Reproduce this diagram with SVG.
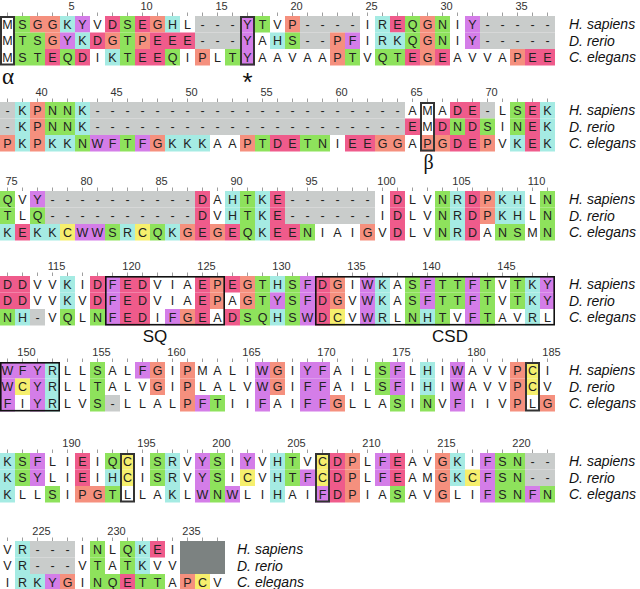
<svg xmlns="http://www.w3.org/2000/svg" width="640" height="589" viewBox="0 0 640 589">
<style>
.g{fill:#8ee25c}.s{fill:#f5907e}.p{fill:#ef5b8b}.c{fill:#a5ebe3}.v{fill:#d47de8}.y{fill:#f6ef6d}.x{fill:#c9cccb}.dk{fill:#7c8281}
.aa{font-family:"Liberation Sans",Arial,sans-serif;font-size:12.5px;fill:#222;text-anchor:middle}
.num{font-family:"Liberation Sans",Arial,sans-serif;font-size:11px;fill:#333;text-anchor:middle}
.sp{font-family:"Liberation Sans",Arial,sans-serif;font-size:14px;font-style:italic;fill:#111}
.ann{font-family:"Liberation Sans",Arial,sans-serif;font-size:17px;fill:#111;text-anchor:middle}
.star{font-family:"Liberation Sans",Arial,sans-serif;font-size:26px;fill:#111;text-anchor:middle}
.gr{font-family:"Liberation Serif","Times New Roman",serif;fill:#111;text-anchor:middle}
.box{fill:none;stroke:#333;stroke-width:2}
.bx2{fill:none;stroke:#111;stroke-width:1.6}
.tk{stroke:#888;stroke-width:3.5;stroke-dasharray:0.8 14.2}
</style>

<!-- Block 1 : 1-37 -->
<g id="block1">
<line class="tk" x1="7.1" y1="14.2" x2="555" y2="14.2"/>
<text class="num" y="9.5"><tspan x="71.5">5</tspan><tspan x="146.5">10</tspan><tspan x="221.5">15</tspan><tspan x="296.5">20</tspan><tspan x="371.5">25</tspan><tspan x="446.5">30</tspan><tspan x="521.5">35</tspan></text>
<g transform="translate(0,16)">
<rect class="g" x="15" width="15" height="16.5"/><rect class="s" x="30" width="30" height="16.5"/><rect class="c" x="60" width="15" height="16.5"/><rect class="v" x="75" width="15" height="16.5"/><rect class="p" x="105" width="15" height="16.5"/><rect class="g" x="120" width="15" height="16.5"/><rect class="p" x="135" width="15" height="16.5"/><rect class="s" x="150" width="15" height="16.5"/><rect class="c" x="165" width="15" height="16.5"/><rect class="x" x="195" width="45" height="16.5"/><rect class="v" x="240" width="15" height="16.5"/><rect class="g" x="255" width="15" height="16.5"/><rect class="s" x="285" width="15" height="16.5"/><rect class="x" x="300" width="60" height="16.5"/><rect class="c" x="375" width="15" height="16.5"/><rect class="p" x="390" width="15" height="16.5"/><rect class="g" x="405" width="15" height="16.5"/><rect class="s" x="420" width="15" height="16.5"/><rect class="g" x="435" width="15" height="16.5"/><rect class="v" x="465" width="15" height="16.5"/><rect class="x" x="480" width="75" height="16.5"/>
</g>
<g transform="translate(0,32.5)">
<rect class="g" x="15" width="30" height="16.5"/><rect class="s" x="45" width="15" height="16.5"/><rect class="v" x="60" width="15" height="16.5"/><rect class="c" x="75" width="15" height="16.5"/><rect class="p" x="90" width="15" height="16.5"/><rect class="s" x="105" width="15" height="16.5"/><rect class="g" x="120" width="15" height="16.5"/><rect class="s" x="135" width="15" height="16.5"/><rect class="p" x="150" width="45" height="16.5"/><rect class="x" x="195" width="45" height="16.5"/><rect class="v" x="240" width="15" height="16.5"/><rect class="c" x="270" width="15" height="16.5"/><rect class="g" x="285" width="15" height="16.5"/><rect class="x" x="300" width="30" height="16.5"/><rect class="s" x="330" width="15" height="16.5"/><rect class="v" x="345" width="15" height="16.5"/><rect class="c" x="375" width="30" height="16.5"/><rect class="g" x="405" width="15" height="16.5"/><rect class="s" x="420" width="15" height="16.5"/><rect class="g" x="435" width="15" height="16.5"/><rect class="v" x="465" width="15" height="16.5"/><rect class="x" x="480" width="75" height="16.5"/>
</g>
<g transform="translate(0,49)">
<rect class="g" x="15" width="30" height="16.5"/><rect class="p" x="45" width="15" height="16.5"/><rect class="g" x="60" width="15" height="16.5"/><rect class="p" x="75" width="15" height="16.5"/><rect class="c" x="105" width="15" height="16.5"/><rect class="g" x="120" width="15" height="16.5"/><rect class="p" x="135" width="30" height="16.5"/><rect class="g" x="165" width="15" height="16.5"/><rect class="s" x="195" width="15" height="16.5"/><rect class="g" x="225" width="15" height="16.5"/><rect class="v" x="240" width="15" height="16.5"/><rect class="s" x="330" width="15" height="16.5"/><rect class="g" x="345" width="15" height="16.5"/><rect class="g" x="375" width="30" height="16.5"/><rect class="p" x="405" width="15" height="16.5"/><rect class="s" x="420" width="15" height="16.5"/><rect class="p" x="435" width="15" height="16.5"/><rect class="s" x="510" width="15" height="16.5"/><rect class="p" x="525" width="30" height="16.5"/>
</g>
<text class="aa" y="28.6" x="7.5 22.5 37.5 52.5 67.5 82.5 97.5 112.5 127.5 142.5 157.5 172.5 187.5 202.5 217.5 232.5 247.5 262.5 277.5 292.5 307.5 322.5 337.5 352.5 367.5 382.5 397.5 412.5 427.5 442.5 457.5 472.5 487.5 502.5 517.5 532.5 547.5">MSGGKYVDSEGHL---YTVP----IREQGNIY-----</text>
<text class="aa" y="45.1" x="7.5 22.5 37.5 52.5 67.5 82.5 97.5 112.5 127.5 142.5 157.5 172.5 187.5 202.5 217.5 232.5 247.5 262.5 277.5 292.5 307.5 322.5 337.5 352.5 367.5 382.5 397.5 412.5 427.5 442.5 457.5 472.5 487.5 502.5 517.5 532.5 547.5">MTSGYKDGTPEEE---YAHS--PFIRKQGNIY-----</text>
<text class="aa" y="61.6" x="7.5 22.5 37.5 52.5 67.5 82.5 97.5 112.5 127.5 142.5 157.5 172.5 187.5 202.5 217.5 232.5 247.5 262.5 277.5 292.5 307.5 322.5 337.5 352.5 367.5 382.5 397.5 412.5 427.5 442.5 457.5 472.5 487.5 502.5 517.5 532.5 547.5">MSTEQDIKTEEQIPLTYAAVAAPTVQTEGEAVVAPEE</text>
<rect class="box" x="1" y="17" width="13" height="47.5"/>
<rect class="box" x="241" y="17" width="13" height="47.5"/>
<text class="sp" x="569" y="29.25">H. sapiens</text>
<text class="sp" x="569" y="45.75">D. rerio</text>
<text class="sp" x="569" y="62.25">C. elegans</text>
<text class="gr" x="8" y="84" font-size="23">α</text>
<text class="star" x="247.5" y="91">*</text>
</g>

<!-- Block 2 : 38-74 -->
<g id="block2">
<line class="tk" x1="7.1" y1="100.2" x2="555" y2="100.2"/>
<text class="num" y="95.5"><tspan x="41.5">40</tspan><tspan x="116.5">45</tspan><tspan x="191.5">50</tspan><tspan x="266.5">55</tspan><tspan x="341.5">60</tspan><tspan x="416.5">65</tspan><tspan x="491.5">70</tspan></text>
<g transform="translate(0,102)">
<rect class="x" x="0" width="15" height="16.5"/><rect class="c" x="15" width="15" height="16.5"/><rect class="s" x="30" width="15" height="16.5"/><rect class="g" x="45" width="30" height="16.5"/><rect class="c" x="75" width="15" height="16.5"/><rect class="x" x="90" width="315" height="16.5"/><rect class="p" x="450" width="30" height="16.5"/><rect class="x" x="480" width="15" height="16.5"/><rect class="g" x="510" width="15" height="16.5"/><rect class="p" x="525" width="15" height="16.5"/><rect class="c" x="540" width="15" height="16.5"/>
</g>
<g transform="translate(0,118.5)">
<rect class="x" x="0" width="15" height="16.5"/><rect class="c" x="15" width="15" height="16.5"/><rect class="s" x="30" width="15" height="16.5"/><rect class="g" x="45" width="30" height="16.5"/><rect class="c" x="75" width="15" height="16.5"/><rect class="x" x="90" width="315" height="16.5"/><rect class="p" x="405" width="15" height="16.5"/><rect class="p" x="435" width="15" height="16.5"/><rect class="g" x="450" width="15" height="16.5"/><rect class="p" x="465" width="15" height="16.5"/><rect class="g" x="480" width="15" height="16.5"/><rect class="g" x="510" width="15" height="16.5"/><rect class="p" x="525" width="15" height="16.5"/><rect class="c" x="540" width="15" height="16.5"/>
</g>
<g transform="translate(0,135)">
<rect class="s" x="0" width="15" height="16.5"/><rect class="c" x="15" width="15" height="16.5"/><rect class="s" x="30" width="15" height="16.5"/><rect class="c" x="45" width="30" height="16.5"/><rect class="g" x="75" width="15" height="16.5"/><rect class="v" x="90" width="30" height="16.5"/><rect class="g" x="120" width="15" height="16.5"/><rect class="v" x="135" width="15" height="16.5"/><rect class="s" x="150" width="15" height="16.5"/><rect class="c" x="165" width="45" height="16.5"/><rect class="s" x="240" width="15" height="16.5"/><rect class="g" x="255" width="15" height="16.5"/><rect class="p" x="270" width="30" height="16.5"/><rect class="g" x="300" width="30" height="16.5"/><rect class="p" x="345" width="30" height="16.5"/><rect class="s" x="375" width="30" height="16.5"/><rect class="s" x="420" width="30" height="16.5"/><rect class="p" x="450" width="30" height="16.5"/><rect class="s" x="480" width="15" height="16.5"/><rect class="c" x="510" width="15" height="16.5"/><rect class="p" x="525" width="15" height="16.5"/><rect class="c" x="540" width="15" height="16.5"/>
</g>
<text class="aa" y="114.6" x="7.5 22.5 37.5 52.5 67.5 82.5 97.5 112.5 127.5 142.5 157.5 172.5 187.5 202.5 217.5 232.5 247.5 262.5 277.5 292.5 307.5 322.5 337.5 352.5 367.5 382.5 397.5 412.5 427.5 442.5 457.5 472.5 487.5 502.5 517.5 532.5 547.5">-KPNNK---------------------AMADE-LSEK</text>
<text class="aa" y="131.1" x="7.5 22.5 37.5 52.5 67.5 82.5 97.5 112.5 127.5 142.5 157.5 172.5 187.5 202.5 217.5 232.5 247.5 262.5 277.5 292.5 307.5 322.5 337.5 352.5 367.5 382.5 397.5 412.5 427.5 442.5 457.5 472.5 487.5 502.5 517.5 532.5 547.5">-KPNNK---------------------EMDNDSINEK</text>
<text class="aa" y="147.6" x="7.5 22.5 37.5 52.5 67.5 82.5 97.5 112.5 127.5 142.5 157.5 172.5 187.5 202.5 217.5 232.5 247.5 262.5 277.5 292.5 307.5 322.5 337.5 352.5 367.5 382.5 397.5 412.5 427.5 442.5 457.5 472.5 487.5 502.5 517.5 532.5 547.5">PKPKKNWFTFGKKKAAPTDETNIEEGGAPGDEPVKEK</text>
<rect class="box" x="421" y="103" width="13" height="47.5"/>
<text class="sp" x="569" y="115.25">H. sapiens</text>
<text class="sp" x="569" y="131.75">D. rerio</text>
<text class="sp" x="569" y="148.25">C. elegans</text>
<text class="gr" x="428.5" y="169" font-size="20">β</text>
</g>

<!-- Block 3 : 75-111 -->
<g id="block3">
<line class="tk" x1="7.1" y1="189.2" x2="555" y2="189.2"/>
<text class="num" y="184.5"><tspan x="11.5">75</tspan><tspan x="86.5">80</tspan><tspan x="161.5">85</tspan><tspan x="236.5">90</tspan><tspan x="311.5">95</tspan><tspan x="386.5">100</tspan><tspan x="461.5">105</tspan><tspan x="536.5">110</tspan></text>
<g transform="translate(0,191)">
<rect class="g" x="0" width="15" height="16.5"/><rect class="v" x="30" width="15" height="16.5"/><rect class="x" x="45" width="150" height="16.5"/><rect class="p" x="195" width="15" height="16.5"/><rect class="c" x="225" width="15" height="16.5"/><rect class="g" x="240" width="15" height="16.5"/><rect class="c" x="255" width="15" height="16.5"/><rect class="p" x="270" width="15" height="16.5"/><rect class="x" x="285" width="90" height="16.5"/><rect class="p" x="390" width="15" height="16.5"/><rect class="g" x="435" width="15" height="16.5"/><rect class="c" x="450" width="15" height="16.5"/><rect class="p" x="465" width="15" height="16.5"/><rect class="s" x="480" width="15" height="16.5"/><rect class="c" x="495" width="30" height="16.5"/><rect class="g" x="540" width="15" height="16.5"/>
</g>
<g transform="translate(0,207.5)">
<rect class="g" x="0" width="15" height="16.5"/><rect class="g" x="30" width="15" height="16.5"/><rect class="x" x="45" width="150" height="16.5"/><rect class="p" x="195" width="15" height="16.5"/><rect class="c" x="225" width="15" height="16.5"/><rect class="g" x="240" width="15" height="16.5"/><rect class="c" x="255" width="15" height="16.5"/><rect class="p" x="270" width="15" height="16.5"/><rect class="x" x="285" width="90" height="16.5"/><rect class="p" x="390" width="15" height="16.5"/><rect class="g" x="435" width="15" height="16.5"/><rect class="c" x="450" width="15" height="16.5"/><rect class="p" x="465" width="15" height="16.5"/><rect class="s" x="480" width="15" height="16.5"/><rect class="c" x="495" width="30" height="16.5"/><rect class="g" x="540" width="15" height="16.5"/>
</g>
<g transform="translate(0,224)">
<rect class="c" x="0" width="15" height="16.5"/><rect class="p" x="15" width="15" height="16.5"/><rect class="c" x="30" width="30" height="16.5"/><rect class="y" x="60" width="15" height="16.5"/><rect class="v" x="75" width="30" height="16.5"/><rect class="g" x="105" width="15" height="16.5"/><rect class="c" x="120" width="15" height="16.5"/><rect class="y" x="135" width="15" height="16.5"/><rect class="g" x="150" width="15" height="16.5"/><rect class="c" x="165" width="15" height="16.5"/><rect class="s" x="180" width="15" height="16.5"/><rect class="p" x="195" width="15" height="16.5"/><rect class="s" x="210" width="15" height="16.5"/><rect class="p" x="225" width="15" height="16.5"/><rect class="g" x="240" width="15" height="16.5"/><rect class="c" x="255" width="15" height="16.5"/><rect class="p" x="270" width="30" height="16.5"/><rect class="g" x="300" width="15" height="16.5"/><rect class="s" x="360" width="15" height="16.5"/><rect class="p" x="390" width="15" height="16.5"/><rect class="g" x="435" width="15" height="16.5"/><rect class="c" x="450" width="15" height="16.5"/><rect class="p" x="465" width="15" height="16.5"/><rect class="g" x="495" width="30" height="16.5"/><rect class="g" x="540" width="15" height="16.5"/>
</g>
<text class="aa" y="203.6" x="7.5 22.5 37.5 52.5 67.5 82.5 97.5 112.5 127.5 142.5 157.5 172.5 187.5 202.5 217.5 232.5 247.5 262.5 277.5 292.5 307.5 322.5 337.5 352.5 367.5 382.5 397.5 412.5 427.5 442.5 457.5 472.5 487.5 502.5 517.5 532.5 547.5">QVY----------DAHTKE------IDLVNRDPKHLN</text>
<text class="aa" y="220.1" x="7.5 22.5 37.5 52.5 67.5 82.5 97.5 112.5 127.5 142.5 157.5 172.5 187.5 202.5 217.5 232.5 247.5 262.5 277.5 292.5 307.5 322.5 337.5 352.5 367.5 382.5 397.5 412.5 427.5 442.5 457.5 472.5 487.5 502.5 517.5 532.5 547.5">TLQ----------DVHTKE------IDLVNRDPKHLN</text>
<text class="aa" y="236.6" x="7.5 22.5 37.5 52.5 67.5 82.5 97.5 112.5 127.5 142.5 157.5 172.5 187.5 202.5 217.5 232.5 247.5 262.5 277.5 292.5 307.5 322.5 337.5 352.5 367.5 382.5 397.5 412.5 427.5 442.5 457.5 472.5 487.5 502.5 517.5 532.5 547.5">KEKKCWWSRCQKGEGEQKEENIAIGVDLVNRDANSMN</text>
<text class="sp" x="569" y="204.25">H. sapiens</text>
<text class="sp" x="569" y="220.75">D. rerio</text>
<text class="sp" x="569" y="237.25">C. elegans</text>
</g>

<!-- Block 4 : 112-148 -->
<g id="block4">
<line class="tk" x1="7.1" y1="274.2" x2="555" y2="274.2"/>
<text class="num" y="269.5"><tspan x="56.5">115</tspan><tspan x="131.5">120</tspan><tspan x="206.5">125</tspan><tspan x="281.5">130</tspan><tspan x="356.5">135</tspan><tspan x="431.5">140</tspan><tspan x="506.5">145</tspan></text>
<g transform="translate(0,276)">
<rect class="p" x="0" width="30" height="16.5"/><rect class="c" x="60" width="15" height="16.5"/><rect class="p" x="90" width="15" height="16.5"/><rect class="v" x="105" width="15" height="16.5"/><rect class="p" x="120" width="30" height="16.5"/><rect class="p" x="195" width="15" height="16.5"/><rect class="s" x="210" width="15" height="16.5"/><rect class="p" x="225" width="15" height="16.5"/><rect class="s" x="240" width="15" height="16.5"/><rect class="g" x="255" width="15" height="16.5"/><rect class="c" x="270" width="15" height="16.5"/><rect class="g" x="285" width="15" height="16.5"/><rect class="v" x="300" width="15" height="16.5"/><rect class="p" x="315" width="15" height="16.5"/><rect class="s" x="330" width="15" height="16.5"/><rect class="v" x="360" width="15" height="16.5"/><rect class="c" x="375" width="15" height="16.5"/><rect class="g" x="405" width="15" height="16.5"/><rect class="v" x="420" width="15" height="16.5"/><rect class="g" x="435" width="30" height="16.5"/><rect class="v" x="465" width="15" height="16.5"/><rect class="g" x="480" width="15" height="16.5"/><rect class="g" x="510" width="15" height="16.5"/><rect class="c" x="525" width="15" height="16.5"/><rect class="v" x="540" width="15" height="16.5"/>
</g>
<g transform="translate(0,292.5)">
<rect class="p" x="0" width="30" height="16.5"/><rect class="c" x="60" width="15" height="16.5"/><rect class="p" x="90" width="15" height="16.5"/><rect class="v" x="105" width="15" height="16.5"/><rect class="p" x="120" width="30" height="16.5"/><rect class="p" x="195" width="15" height="16.5"/><rect class="s" x="210" width="15" height="16.5"/><rect class="s" x="240" width="15" height="16.5"/><rect class="g" x="255" width="15" height="16.5"/><rect class="v" x="270" width="15" height="16.5"/><rect class="g" x="285" width="15" height="16.5"/><rect class="v" x="300" width="15" height="16.5"/><rect class="p" x="315" width="15" height="16.5"/><rect class="s" x="330" width="15" height="16.5"/><rect class="v" x="360" width="15" height="16.5"/><rect class="c" x="375" width="15" height="16.5"/><rect class="g" x="405" width="15" height="16.5"/><rect class="v" x="420" width="15" height="16.5"/><rect class="g" x="435" width="30" height="16.5"/><rect class="v" x="465" width="15" height="16.5"/><rect class="g" x="480" width="15" height="16.5"/><rect class="g" x="510" width="15" height="16.5"/><rect class="c" x="525" width="15" height="16.5"/><rect class="v" x="540" width="15" height="16.5"/>
</g>
<g transform="translate(0,309)">
<rect class="g" x="0" width="15" height="16.5"/><rect class="c" x="15" width="15" height="16.5"/><rect class="x" x="30" width="15" height="16.5"/><rect class="g" x="60" width="15" height="16.5"/><rect class="g" x="90" width="15" height="16.5"/><rect class="v" x="105" width="15" height="16.5"/><rect class="p" x="120" width="30" height="16.5"/><rect class="v" x="165" width="15" height="16.5"/><rect class="s" x="180" width="15" height="16.5"/><rect class="p" x="195" width="15" height="16.5"/><rect class="p" x="225" width="15" height="16.5"/><rect class="g" x="240" width="30" height="16.5"/><rect class="c" x="270" width="15" height="16.5"/><rect class="g" x="285" width="15" height="16.5"/><rect class="v" x="300" width="15" height="16.5"/><rect class="p" x="315" width="15" height="16.5"/><rect class="y" x="330" width="15" height="16.5"/><rect class="v" x="360" width="15" height="16.5"/><rect class="c" x="375" width="15" height="16.5"/><rect class="g" x="405" width="15" height="16.5"/><rect class="c" x="420" width="15" height="16.5"/><rect class="g" x="435" width="15" height="16.5"/><rect class="v" x="465" width="15" height="16.5"/><rect class="g" x="480" width="15" height="16.5"/><rect class="c" x="525" width="15" height="16.5"/>
</g>
<text class="aa" y="288.6" x="7.5 22.5 37.5 52.5 67.5 82.5 97.5 112.5 127.5 142.5 157.5 172.5 187.5 202.5 217.5 232.5 247.5 262.5 277.5 292.5 307.5 322.5 337.5 352.5 367.5 382.5 397.5 412.5 427.5 442.5 457.5 472.5 487.5 502.5 517.5 532.5 547.5">DDVVKIDFEDVIAEPEGTHSFDGIWKASFTTFTVTKY</text>
<text class="aa" y="305.1" x="7.5 22.5 37.5 52.5 67.5 82.5 97.5 112.5 127.5 142.5 157.5 172.5 187.5 202.5 217.5 232.5 247.5 262.5 277.5 292.5 307.5 322.5 337.5 352.5 367.5 382.5 397.5 412.5 427.5 442.5 457.5 472.5 487.5 502.5 517.5 532.5 547.5">DDVVKVDFEDVIAEPAGTYSFDGVWKASFTTFTVTKY</text>
<text class="aa" y="321.6" x="7.5 22.5 37.5 52.5 67.5 82.5 97.5 112.5 127.5 142.5 157.5 172.5 187.5 202.5 217.5 232.5 247.5 262.5 277.5 292.5 307.5 322.5 337.5 352.5 367.5 382.5 397.5 412.5 427.5 442.5 457.5 472.5 487.5 502.5 517.5 532.5 547.5">NH-VQLNFEDIFGEADSQHSWDCVWRLNHTVFTAVRL</text>
<rect class="bx2" x="105.8" y="276.8" width="118.4" height="47.9"/>
<rect class="bx2" x="315.8" y="276.8" width="238.4" height="47.9"/>
<text class="sp" x="569" y="289.25">H. sapiens</text>
<text class="sp" x="569" y="305.75">D. rerio</text>
<text class="sp" x="569" y="322.25">C. elegans</text>
<text class="ann" x="155" y="342">SQ</text>
<text class="ann" x="450" y="342">CSD</text>
</g>

<!-- Block 5 : 149-185 -->
<g id="block5">
<line class="tk" x1="7.1" y1="360.2" x2="555" y2="360.2"/>
<text class="num" y="355.5"><tspan x="26.5">150</tspan><tspan x="101.5">155</tspan><tspan x="176.5">160</tspan><tspan x="251.5">165</tspan><tspan x="326.5">170</tspan><tspan x="401.5">175</tspan><tspan x="476.5">180</tspan><tspan x="551.5">185</tspan></text>
<g transform="translate(0,362)">
<rect class="v" x="0" width="45" height="16.5"/><rect class="c" x="45" width="15" height="16.5"/><rect class="g" x="90" width="15" height="16.5"/><rect class="v" x="135" width="15" height="16.5"/><rect class="s" x="150" width="15" height="16.5"/><rect class="s" x="180" width="15" height="16.5"/><rect class="v" x="255" width="15" height="16.5"/><rect class="s" x="270" width="15" height="16.5"/><rect class="v" x="300" width="30" height="16.5"/><rect class="g" x="375" width="15" height="16.5"/><rect class="v" x="390" width="15" height="16.5"/><rect class="c" x="420" width="15" height="16.5"/><rect class="v" x="450" width="15" height="16.5"/><rect class="s" x="510" width="15" height="16.5"/><rect class="y" x="525" width="15" height="16.5"/>
</g>
<g transform="translate(0,378.5)">
<rect class="v" x="0" width="15" height="16.5"/><rect class="y" x="15" width="15" height="16.5"/><rect class="v" x="30" width="15" height="16.5"/><rect class="c" x="45" width="15" height="16.5"/><rect class="g" x="90" width="15" height="16.5"/><rect class="s" x="150" width="15" height="16.5"/><rect class="s" x="180" width="15" height="16.5"/><rect class="v" x="255" width="15" height="16.5"/><rect class="s" x="270" width="15" height="16.5"/><rect class="v" x="300" width="30" height="16.5"/><rect class="g" x="375" width="15" height="16.5"/><rect class="v" x="390" width="15" height="16.5"/><rect class="c" x="420" width="15" height="16.5"/><rect class="v" x="450" width="15" height="16.5"/><rect class="s" x="510" width="15" height="16.5"/><rect class="y" x="525" width="15" height="16.5"/>
</g>
<g transform="translate(0,395)">
<rect class="v" x="0" width="15" height="16.5"/><rect class="v" x="30" width="15" height="16.5"/><rect class="c" x="45" width="15" height="16.5"/><rect class="g" x="90" width="15" height="16.5"/><rect class="x" x="105" width="15" height="16.5"/><rect class="s" x="180" width="15" height="16.5"/><rect class="v" x="195" width="15" height="16.5"/><rect class="g" x="210" width="15" height="16.5"/><rect class="v" x="255" width="15" height="16.5"/><rect class="v" x="300" width="30" height="16.5"/><rect class="s" x="330" width="15" height="16.5"/><rect class="g" x="390" width="15" height="16.5"/><rect class="g" x="420" width="15" height="16.5"/><rect class="v" x="450" width="15" height="16.5"/><rect class="s" x="510" width="15" height="16.5"/><rect class="s" x="540" width="15" height="16.5"/>
</g>
<text class="aa" y="374.6" x="7.5 22.5 37.5 52.5 67.5 82.5 97.5 112.5 127.5 142.5 157.5 172.5 187.5 202.5 217.5 232.5 247.5 262.5 277.5 292.5 307.5 322.5 337.5 352.5 367.5 382.5 397.5 412.5 427.5 442.5 457.5 472.5 487.5 502.5 517.5 532.5 547.5">WFYRLLSALFGIPMALIWGIYFAILSFLHIWAVVPCI</text>
<text class="aa" y="391.1" x="7.5 22.5 37.5 52.5 67.5 82.5 97.5 112.5 127.5 142.5 157.5 172.5 187.5 202.5 217.5 232.5 247.5 262.5 277.5 292.5 307.5 322.5 337.5 352.5 367.5 382.5 397.5 412.5 427.5 442.5 457.5 472.5 487.5 502.5 517.5 532.5 547.5">WCYRLLTALVGIPLALVWGIFFAILSFIHIWAVVPCV</text>
<text class="aa" y="407.6" x="7.5 22.5 37.5 52.5 67.5 82.5 97.5 112.5 127.5 142.5 157.5 172.5 187.5 202.5 217.5 232.5 247.5 262.5 277.5 292.5 307.5 322.5 337.5 352.5 367.5 382.5 397.5 412.5 427.5 442.5 457.5 472.5 487.5 502.5 517.5 532.5 547.5">FIYRLVS-LLALPFTIIFAIFFGLLASINVFIIVPLG</text>
<rect class="bx2" x="0.8" y="362.8" width="58.4" height="47.9"/>
<rect class="box" x="526" y="363" width="13" height="47.5"/>
<text class="sp" x="569" y="375.25">H. sapiens</text>
<text class="sp" x="569" y="391.75">D. rerio</text>
<text class="sp" x="569" y="408.25">C. elegans</text>
</g>

<!-- Block 6 : 186-222 -->
<g id="block6">
<line class="tk" x1="7.1" y1="451.2" x2="555" y2="451.2"/>
<text class="num" y="446.5"><tspan x="71.5">190</tspan><tspan x="146.5">195</tspan><tspan x="221.5">200</tspan><tspan x="296.5">205</tspan><tspan x="371.5">210</tspan><tspan x="446.5">215</tspan><tspan x="521.5">220</tspan></text>
<g transform="translate(0,453)">
<rect class="c" x="0" width="15" height="16.5"/><rect class="g" x="15" width="15" height="16.5"/><rect class="v" x="30" width="15" height="16.5"/><rect class="p" x="75" width="15" height="16.5"/><rect class="g" x="105" width="15" height="16.5"/><rect class="y" x="120" width="15" height="16.5"/><rect class="g" x="150" width="15" height="16.5"/><rect class="c" x="165" width="15" height="16.5"/><rect class="v" x="195" width="15" height="16.5"/><rect class="g" x="210" width="15" height="16.5"/><rect class="v" x="240" width="15" height="16.5"/><rect class="c" x="270" width="15" height="16.5"/><rect class="g" x="285" width="15" height="16.5"/><rect class="y" x="315" width="15" height="16.5"/><rect class="p" x="330" width="15" height="16.5"/><rect class="s" x="345" width="15" height="16.5"/><rect class="v" x="375" width="15" height="16.5"/><rect class="p" x="390" width="15" height="16.5"/><rect class="s" x="435" width="15" height="16.5"/><rect class="c" x="450" width="15" height="16.5"/><rect class="v" x="480" width="15" height="16.5"/><rect class="g" x="495" width="30" height="16.5"/><rect class="x" x="525" width="30" height="16.5"/>
</g>
<g transform="translate(0,469.5)">
<rect class="c" x="0" width="15" height="16.5"/><rect class="g" x="15" width="15" height="16.5"/><rect class="v" x="30" width="15" height="16.5"/><rect class="p" x="75" width="15" height="16.5"/><rect class="c" x="105" width="15" height="16.5"/><rect class="y" x="120" width="15" height="16.5"/><rect class="g" x="150" width="15" height="16.5"/><rect class="c" x="165" width="15" height="16.5"/><rect class="v" x="195" width="15" height="16.5"/><rect class="g" x="210" width="15" height="16.5"/><rect class="y" x="240" width="15" height="16.5"/><rect class="c" x="270" width="15" height="16.5"/><rect class="g" x="285" width="15" height="16.5"/><rect class="v" x="300" width="15" height="16.5"/><rect class="y" x="315" width="15" height="16.5"/><rect class="p" x="330" width="15" height="16.5"/><rect class="s" x="345" width="15" height="16.5"/><rect class="v" x="375" width="15" height="16.5"/><rect class="p" x="390" width="15" height="16.5"/><rect class="s" x="435" width="15" height="16.5"/><rect class="c" x="450" width="15" height="16.5"/><rect class="y" x="465" width="15" height="16.5"/><rect class="v" x="480" width="15" height="16.5"/><rect class="g" x="495" width="30" height="16.5"/><rect class="x" x="525" width="30" height="16.5"/>
</g>
<g transform="translate(0,486)">
<rect class="c" x="0" width="15" height="16.5"/><rect class="g" x="45" width="15" height="16.5"/><rect class="s" x="75" width="30" height="16.5"/><rect class="g" x="105" width="15" height="16.5"/><rect class="c" x="165" width="15" height="16.5"/><rect class="v" x="195" width="15" height="16.5"/><rect class="g" x="210" width="15" height="16.5"/><rect class="v" x="225" width="15" height="16.5"/><rect class="c" x="270" width="15" height="16.5"/><rect class="v" x="315" width="15" height="16.5"/><rect class="p" x="330" width="15" height="16.5"/><rect class="s" x="345" width="15" height="16.5"/><rect class="g" x="390" width="15" height="16.5"/><rect class="s" x="435" width="15" height="16.5"/><rect class="v" x="480" width="15" height="16.5"/><rect class="g" x="495" width="30" height="16.5"/><rect class="v" x="525" width="15" height="16.5"/><rect class="g" x="540" width="15" height="16.5"/>
</g>
<text class="aa" y="465.6" x="7.5 22.5 37.5 52.5 67.5 82.5 97.5 112.5 127.5 142.5 157.5 172.5 187.5 202.5 217.5 232.5 247.5 262.5 277.5 292.5 307.5 322.5 337.5 352.5 367.5 382.5 397.5 412.5 427.5 442.5 457.5 472.5 487.5 502.5 517.5 532.5 547.5">KSFLIEIQCISRVYSIYVHTVCDPLFEAVGKIFSN--</text>
<text class="aa" y="482.1" x="7.5 22.5 37.5 52.5 67.5 82.5 97.5 112.5 127.5 142.5 157.5 172.5 187.5 202.5 217.5 232.5 247.5 262.5 277.5 292.5 307.5 322.5 337.5 352.5 367.5 382.5 397.5 412.5 427.5 442.5 457.5 472.5 487.5 502.5 517.5 532.5 547.5">KSYLIEIHCISRVYSICVHTFCDPLFEAMGKCFSN--</text>
<text class="aa" y="498.6" x="7.5 22.5 37.5 52.5 67.5 82.5 97.5 112.5 127.5 142.5 157.5 172.5 187.5 202.5 217.5 232.5 247.5 262.5 277.5 292.5 307.5 322.5 337.5 352.5 367.5 382.5 397.5 412.5 427.5 442.5 457.5 472.5 487.5 502.5 517.5 532.5 547.5">KLLSIPGTLLAKLWNWLIHAIFDPIASAVGLIFSNFN</text>
<rect class="box" x="121" y="454" width="13" height="47.5"/>
<rect class="box" x="316" y="454" width="13" height="47.5"/>
<text class="sp" x="569" y="466.25">H. sapiens</text>
<text class="sp" x="569" y="482.75">D. rerio</text>
<text class="sp" x="569" y="499.25">C. elegans</text>
</g>

<!-- Block 7 : 223-237 -->
<g id="block7">
<line class="tk" x1="7.1" y1="539.2" x2="225" y2="539.2"/>
<text class="num" y="534.5"><tspan x="41.5">225</tspan><tspan x="116.5">230</tspan><tspan x="191.5">235</tspan></text>
<g transform="translate(0,541)">
<rect class="c" x="15" width="15" height="16.5"/><rect class="x" x="30" width="45" height="16.5"/><rect class="g" x="90" width="15" height="16.5"/><rect class="g" x="120" width="15" height="16.5"/><rect class="c" x="135" width="15" height="16.5"/><rect class="p" x="150" width="15" height="16.5"/>
<rect class="dk" x="180" width="45" height="33"/>
</g>
<g transform="translate(0,557.5)">
<rect class="c" x="15" width="15" height="16.5"/><rect class="x" x="30" width="45" height="16.5"/><rect class="g" x="90" width="15" height="16.5"/><rect class="g" x="120" width="15" height="16.5"/><rect class="c" x="135" width="15" height="16.5"/>
</g>
<g transform="translate(0,574)">
<rect class="c" x="15" width="30" height="16.5"/><rect class="v" x="45" width="15" height="16.5"/><rect class="s" x="60" width="15" height="16.5"/><rect class="g" x="90" width="30" height="16.5"/><rect class="p" x="120" width="15" height="16.5"/><rect class="g" x="135" width="30" height="16.5"/><rect class="s" x="180" width="15" height="16.5"/><rect class="y" x="195" width="15" height="16.5"/>
</g>
<text class="aa" y="553.6" x="7.5 22.5 37.5 52.5 67.5 82.5 97.5 112.5 127.5 142.5 157.5 172.5">VR---INLQKEI</text>
<text class="aa" y="570.1" x="7.5 22.5 37.5 52.5 67.5 82.5 97.5 112.5 127.5 142.5 157.5 172.5">VR---VTATKVV</text>
<text class="aa" y="586.6" x="7.5 22.5 37.5 52.5 67.5 82.5 97.5 112.5 127.5 142.5 157.5 172.5 187.5 202.5 217.5">IRKYGINQETTAPCV</text>
<text class="sp" x="237" y="554.25">H. sapiens</text>
<text class="sp" x="237" y="570.75">D. rerio</text>
<text class="sp" x="237" y="587.25">C. elegans</text>
</g>
</svg>
